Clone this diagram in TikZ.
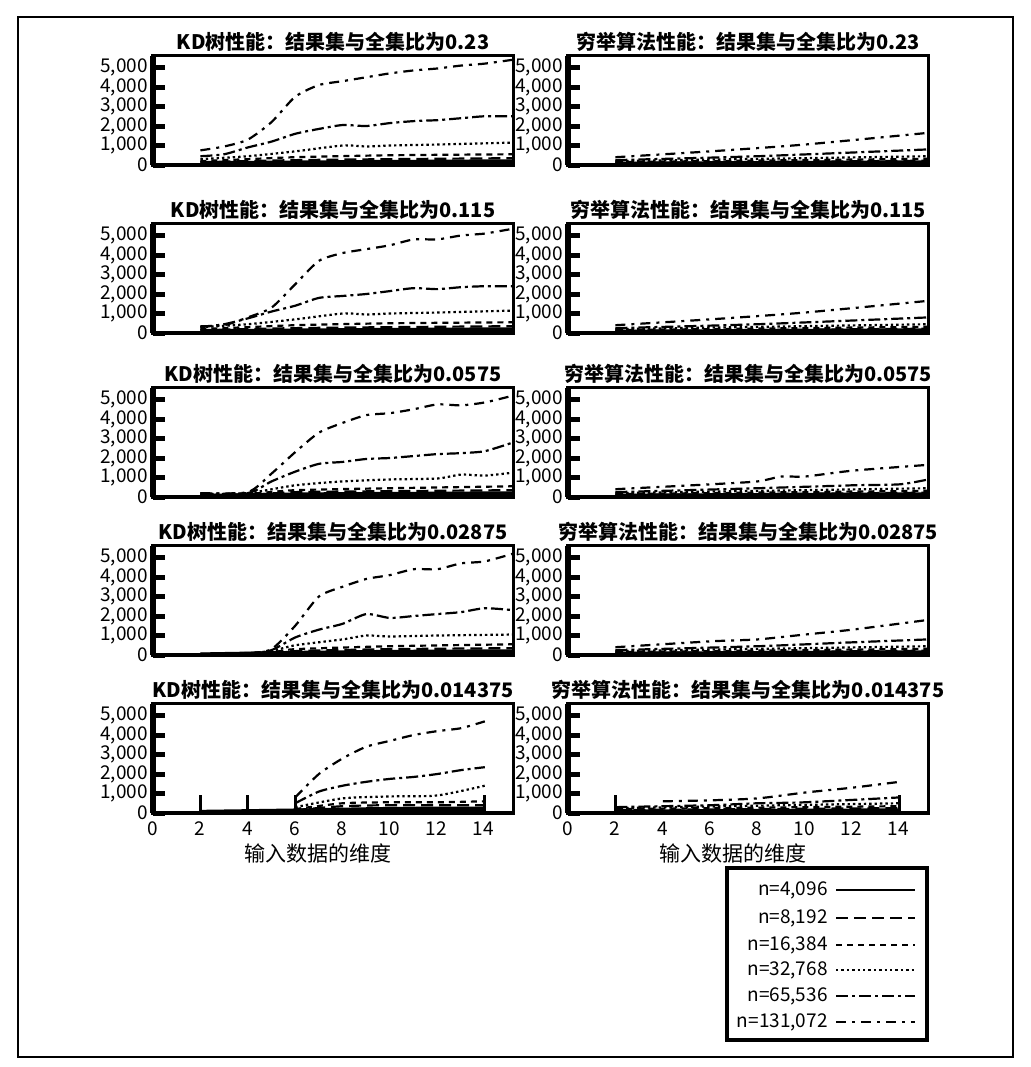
\documentclass[tikz,border=0pt]{standalone}
\usepackage{fontspec}
\setmainfont{Noto Sans CJK SC}
\begin{document}
\begin{tikzpicture}[x=0.5pt,y=0.5pt,
  lab/.style={font=\fontsize{9.5}{10}\selectfont,inner sep=0pt},
  ttl/.style={font=\fontsize{10}{12}\selectfont\bfseries,inner sep=0pt},
  sA/.style={line width=2.2pt},
  sB/.style={line width=1.1pt,dash pattern=on 6pt off 3pt},
  sC/.style={line width=1.1pt,dash pattern=on 3pt off 2.5pt},
  sD/.style={line width=1.1pt,dash pattern=on 1.2pt off 1.5pt},
  sE/.style={line width=1.1pt,dash pattern=on 6pt off 2pt on 1.5pt off 2pt},
  sF/.style={line width=1.1pt,dash pattern=on 5pt off 3pt on 1.5pt off 3pt}]
\useasboundingbox (0,0) rectangle (1030,-1067);
\draw[line width=0.6pt] (18,-17) rectangle (1013,-1057);
% panel macro
\newcommand\panel[9]{%
 \begin{scope}[shift={(#1,-#2)},x=11.85pt,y=0.00975pt]
  \draw[sF] plot[smooth,tension=0.4] coordinates {#4};
  \draw[sE] plot[smooth,tension=0.4] coordinates {#5};
  \draw[sD] plot[smooth,tension=0.4] coordinates {#6};
  \draw[sC] plot[smooth,tension=0.4] coordinates {#7};
  \draw[sB] plot[smooth,tension=0.4] coordinates {#8};
  \draw[sA] plot[smooth,tension=0.4] coordinates {#9};
  \draw[line width=1.6pt] (0,0) rectangle (15.2,5600);
  \draw[line width=3pt] (0,0) -- (0,5600);
  \foreach \v/\t in {0/0,1000/{1,000},2000/{2,000},3000/{3,000},4000/{4,000},5000/{5,000}}{
    \draw[line width=2.5pt] (0,\v) -- (0.5,\v);
    \node[lab,anchor=east] at (-0.2,\v) {\t};}
  \node[ttl] at (7.6,6300) {#3};
 \end{scope}}
\def\kdA{(2,750)(3,950)(4,1300)(5,2200)(6,3500)(7,4100)(8,4300)(9,4500)(10,4700)(11,4850)(12,4950)(13,5100)(14,5200)(15.2,5400)}
\def\kdB{(2,450)(3,550)(4,900)(5,1200)(6,1600)(7,1850)(8,2050)(9,2000)(10,2150)(11,2250)(12,2300)(13,2400)(14,2500)(15.2,2500)}
\def\kdC{(2,300)(4,450)(6,700)(8,1000)(9,950)(10,1000)(12,1050)(15.2,1150)}
\def\kdD{(2,200)(4,300)(6,400)(10,500)(15.2,550)}
\def\kdE{(2,150)(6,250)(10,300)(15.2,350)}
\def\kdF{(2,80)(6,120)(10,150)(15.2,180)}
\def\exA{(2,400)(6,700)(10,1050)(15.2,1650)}
\def\exB{(2,250)(8,450)(15.2,800)}
\def\exC{(2,200)(15.2,450)}
\def\exD{(2,150)(15.2,320)}
\def\exE{(2,100)(15.2,220)}
\def\exF{(2,60)(15.2,130)}
% row 1
\panel{153}{165}{KD树性能：结果集与全集比为0.23}{\kdA}{\kdB}{\kdC}{\kdD}{\kdE}{\kdF}
\panel{568}{165}{穷举算法性能：结果集与全集比为0.23}{\exA}{\exB}{\exC}{\exD}{\exE}{\exF}
% row 2
\panel{153}{333}{KD树性能：结果集与全集比为0.115}{(2,350)(3,400)(4,800)(5,1300)(6,2500)(7,3700)(8,4100)(9,4300)(10,4500)(11,4800)(12,4800)(13,5000)(14,5100)(15.2,5350)}{(2,300)(3,450)(4,750)(5,1100)(6,1400)(7,1800)(8,1900)(9,2000)(10,2150)(11,2300)(12,2250)(13,2350)(14,2400)(15.2,2400)}{\kdC}{\kdD}{\kdE}{\kdF}
\panel{568}{333}{穷举算法性能：结果集与全集比为0.115}{\exA}{\exB}{\exC}{\exD}{\exE}{\exF}
% row 3
\panel{153}{497}{KD树性能：结果集与全集比为0.0575}{(2,200)(4,250)(5,1200)(6,2300)(7,3300)(8,3800)(9,4200)(10,4300)(11,4500)(12,4750)(13,4700)(14,4850)(15.2,5200)}{(2,200)(4,200)(5,800)(6,1300)(7,1700)(8,1800)(9,1950)(10,2000)(11,2100)(12,2200)(13,2250)(14,2350)(15.2,2800)}{(2,150)(4,200)(6,600)(8,800)(10,900)(12,950)(13,1150)(14,1100)(15.2,1250)}{(2,100)(4,150)(6,350)(10,450)(15.2,550)}{(2,80)(4,100)(6,250)(10,300)(15.2,350)}{(2,50)(6,120)(10,150)(15.2,180)}
\panel{568}{497}{穷举算法性能：结果集与全集比为0.0575}{(2,400)(6,650)(8,800)(9,1050)(10,1050)(12,1350)(15.2,1650)}{(2,250)(8,450)(12,600)(14,650)(15.2,900)}{\exC}{\exD}{\exE}{\exF}
% row 4
\panel{153}{655}{KD树性能：结果集与全集比为0.02875}{(2,50)(4,100)(5,300)(6,1500)(7,3000)(8,3500)(9,3900)(10,4100)(11,4400)(12,4400)(13,4700)(14,4800)(15.2,5200)}{(2,50)(4,80)(5,250)(6,900)(7,1300)(8,1600)(9,2100)(10,1900)(11,2000)(12,2100)(13,2200)(14,2400)(15.2,2300)}{(2,40)(4,60)(5,200)(6,500)(8,800)(9,1000)(10,950)(12,1000)(15.2,1050)}{(2,30)(5,150)(6,300)(10,450)(15.2,550)}{(2,30)(5,100)(6,200)(10,300)(15.2,350)}{(2,20)(6,100)(10,150)(15.2,180)}
\panel{568}{655}{穷举算法性能：结果集与全集比为0.02875}{(2,400)(6,700)(8,800)(10,1050)(12,1300)(15.2,1800)}{(2,250)(8,450)(12,650)(15.2,800)}{\exC}{\exD}{\exE}{\exF}
% row 5
\panel{153}{813}{KD树性能：结果集与全集比为0.014375}{(6,800)(7,2000)(8,2800)(9,3400)(10,3700)(11,4000)(12,4200)(13,4350)(14,4700)}{(6,500)(7,1100)(8,1400)(9,1600)(10,1750)(11,1850)(12,2000)(13,2200)(14,2350)}{(6,300)(8,750)(10,850)(12,900)(14,1400)}{(6,200)(8,500)(10,550)(12,550)(14,600)}{(6,150)(8,350)(10,400)(14,400)}{(2,50)(6,120)(10,200)(14,220)}
\panel{568}{813}{穷举算法性能：结果集与全集比为0.014375}{(4,600)(6,650)(8,750)(10,1050)(12,1300)(14,1600)}{(2,300)(6,400)(8,500)(10,550)(14,800)}{(2,250)(14,500)}{(2,200)(14,350)}{(2,150)(14,250)}{(2,60)(14,130)}
% spikes in row 5
\foreach \xx in {2,4,6,14}{\draw[line width=1.6pt] (153+\xx*23.7,-813) -- (153+\xx*23.7,-813+18);}
\foreach \xx in {2,14}{\draw[line width=1.6pt] (568+\xx*23.7,-813) -- (568+\xx*23.7,-813+18);}
% x ticks
\foreach \xo in {153,568}{
  \foreach \v in {0,2,...,14}{\node[lab] at (\xo+\v*23.6,-829) {\v};}
  \node[font=\fontsize{10.5}{12}\selectfont,inner sep=0pt] at (\xo+165,-853) {输入数据的维度};}
% legend
\draw[line width=1.6pt] (727,-868) rectangle (927,-1040);
\foreach \y/\t/\s in {890/{n=4,096}/sA,918/{n=8,192}/sB,945/{n=16,384}/sC,970/{n=32,768}/sD,996/{n=65,536}/sE,1022/{n=131,072}/sF}{
  \node[lab,anchor=east] (L\y) at (828,-\y) {\t};
  \coordinate (M\y) at (915,-\y);
  \draw[\s,line width=0.8pt] ([xshift=4pt]L\y.east) -- (M\y);}
\end{tikzpicture}
\end{document}
